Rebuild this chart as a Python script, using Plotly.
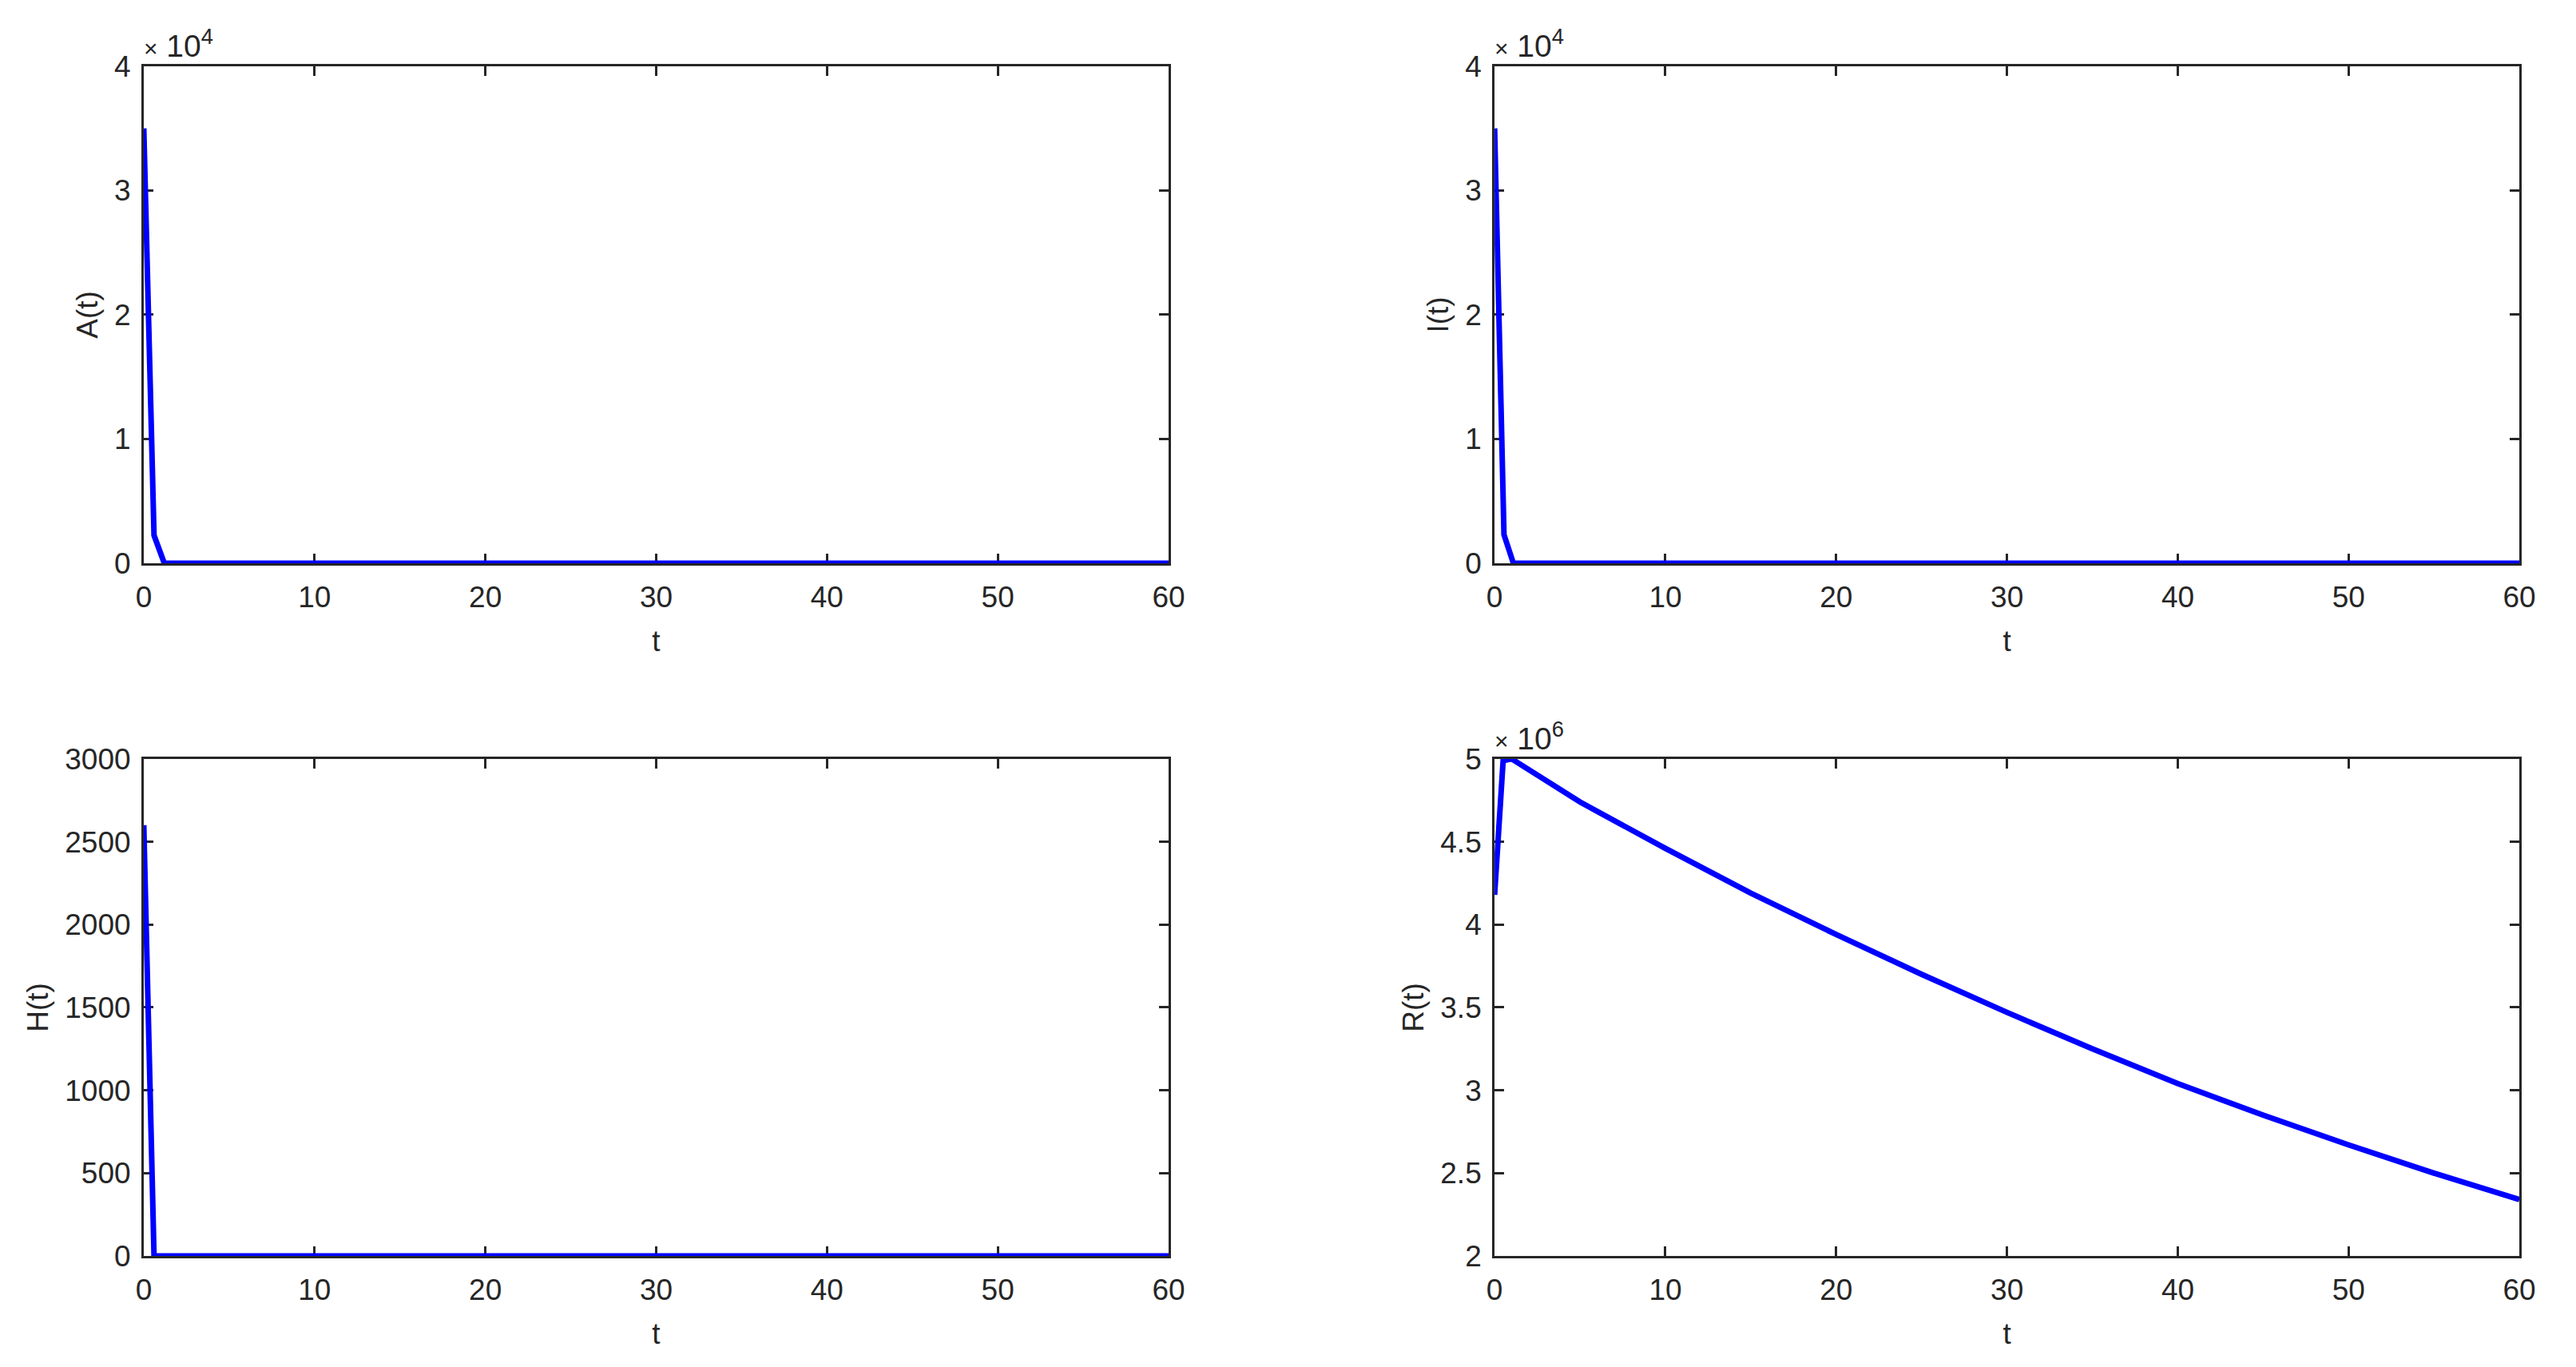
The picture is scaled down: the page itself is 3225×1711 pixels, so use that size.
import plotly.graph_objects as go
from plotly.subplots import make_subplots

# solution curves (t in days)
t_A = [0, 0.6, 1.2, 60]
A = [35000, 2250, 0, 0]

t_I = [0, 0.55, 1.1, 60]
I = [35000, 2300, 0, 0]

t_H = [0, 0.6, 60]
H = [2600, 0, 0]

t_R = [0, 0.5, 1.0, 5, 10, 15, 20, 25, 30, 35, 40, 45, 50, 55, 60]
R = [4.18e6, 4.99e6, 5.0e6, 4.74e6, 4.46e6, 4.19e6, 3.94e6, 3.70e6, 3.47e6,
     3.25e6, 3.04e6, 2.85e6, 2.67e6, 2.50e6, 2.34e6]

x_ticks = [0, 10, 20, 30, 40, 50, 60]
A_ticks = [0, 1e4, 2e4, 3e4, 4e4]
A_labels = ["0", "1", "2", "3", "4"]
H_ticks = [0, 500, 1000, 1500, 2000, 2500, 3000]
R_ticks = [2e6, 2.5e6, 3e6, 3.5e6, 4e6, 4.5e6, 5e6]
R_labels = ["2", "2.5", "3", "3.5", "4", "4.5", "5"]

FONT = "Liberation Sans, Arial, sans-serif"
INK = "#262626"

fig = make_subplots(rows=2, cols=2)

panels = [
    (1, 1, t_A, A, "A(t)", A_ticks, A_labels, [0, 4e4]),
    (1, 2, t_I, I, "I(t)", A_ticks, A_labels, [0, 4e4]),
    (2, 1, t_H, H, "H(t)", H_ticks, [str(v) for v in H_ticks], [0, 3000]),
    (2, 2, t_R, R, "R(t)", R_ticks, R_labels, [2e6, 5e6]),
]

for row, col, tx, ty, name, yt, ytext, yr in panels:
    fig.add_trace(go.Scatter(x=tx, y=ty, mode="lines", name=name, cliponaxis=False,
                             line=dict(color="#0000ff", width=7)), row=row, col=col)
    fig.update_yaxes(range=yr, tickvals=yt, ticktext=ytext,
                     title=dict(text=name, standoff=10), row=row, col=col)
    fig.update_xaxes(range=[0, 60], tickvals=x_ticks,
                     title=dict(text="t", standoff=22), row=row, col=col)

axis_style = dict(showline=True, linecolor=INK, linewidth=3, mirror="ticks",
                  ticks="inside", ticklen=12, tickwidth=3, tickcolor=INK,
                  showgrid=False, zeroline=False, layer="below traces",
                  automargin=False,
                  tickfont=dict(family=FONT, size=37, color=INK),
                  title_font=dict(family=FONT, size=37, color=INK))
fig.update_xaxes(**axis_style, ticklabelstandoff=8)
fig.update_yaxes(**axis_style, ticklabelstandoff=6)

# page body has an 8px margin, so the figure is a bit smaller than the window
xl = [0.0536, 0.4534]
xr = [0.5806, 0.9804]
yt_dom = [0.5888, 0.9558]
yb_dom = [0.0773, 0.4443]
fig.update_layout(
    xaxis=dict(domain=xl), yaxis=dict(domain=yt_dom),
    xaxis2=dict(domain=xr), yaxis2=dict(domain=yt_dom),
    xaxis3=dict(domain=xl), yaxis3=dict(domain=yb_dom),
    xaxis4=dict(domain=xr), yaxis4=dict(domain=yb_dom),
)

# MATLAB style exponent labels
for x0, y0, ex in [(xl[0], yt_dom[1], 4), (xr[0], yt_dom[1], 4), (xr[0], yb_dom[1], 6)]:
    fig.add_annotation(x=x0, y=y0, xref="paper", yref="paper", xanchor="left",
                       yanchor="bottom", showarrow=False, xshift=-2, yshift=2,
                       text="<span style='font-size:30px'>×</span> 10<sup>%d</sup>" % ex,
                       font=dict(family=FONT, size=39, color=INK))

fig.update_layout(width=3209, height=1695, showlegend=False,
                  margin=dict(l=0, r=0, t=0, b=0),
                  paper_bgcolor="white", plot_bgcolor="white")

fig.write_html("out.html")
